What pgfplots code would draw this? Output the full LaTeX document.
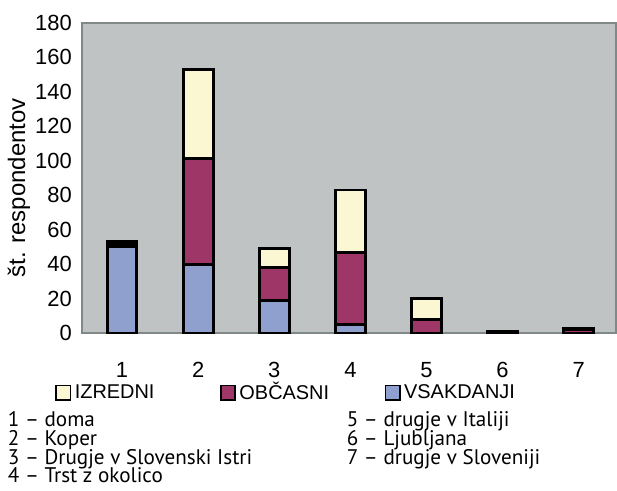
\documentclass[border=0pt]{standalone}
\usepackage{pgfplots}
\pgfplotsset{compat=1.18}
\usepackage{fontspec}
\setmainfont{Liberation Sans}
\newfontfamily\notefont{PT Sans}

\definecolor{bggray}{RGB}{192,195,196}
\definecolor{axisgray}{RGB}{128,136,136}
\definecolor{vsak}{RGB}{143,160,206}
\definecolor{obc}{RGB}{158,55,104}
\definecolor{izr}{RGB}{250,247,210}

\begin{document}
\begin{tikzpicture}
\begin{axis}[
    at={(0,0)}, anchor=south west,
    scale only axis,
    width=267.65pt, height=155.8pt,
    ybar stacked, bar width=15pt,
    xmin=0.48, xmax=7.49, ymin=0, ymax=180,
    xtick={1,...,7}, ytick={0,20,...,180},
    major tick length=0pt,
    axis background/.style={fill=bggray},
    axis line style={draw=axisgray, line width=1pt},
    tick label style={font=\fontsize{11}{12}\selectfont},
    /pgf/number format/assume math mode=true,
    xticklabel style={yshift=-11pt},
    yticklabel style={xshift=-1.8pt},
    ylabel={št. respondentov},
    ylabel style={at={(axis description cs:-0.119,0.468)}, anchor=center,
                  font=\fontsize{12}{13}\selectfont},
    every axis plot/.append style={draw=black, line width=1.5pt},
    legend image code/.code={\draw[#1, line width=0.8pt] (0pt,-3.6pt) rectangle (7.2pt,3.6pt);},
    reverse legend,
    legend columns=3,
    legend cell align=left,
    legend style={at={(axis description cs:-0.0517,-0.1916)}, anchor=west,
                  draw=none, fill=none, inner sep=0pt,
                  font=\fontsize{10}{11}\selectfont,
                  nodes={inner xsep=1.8pt, inner ysep=1pt, text width=71pt},
                  /tikz/every even column/.append style={column sep=0pt}},
]
% vsakdanji
\addplot[fill=vsak] coordinates {(1,50) (2,40) (3,19) (4,5) (5,0) (6,0) (7,0)};
% obcasni
\addplot[fill=obc] coordinates {(1,2) (2,61) (3,19) (4,42) (5,8) (6,1) (7,2)};
% izredni
\addplot[fill=izr] coordinates {(1,1) (2,52) (3,11) (4,36) (5,12) (6,0) (7,1)};
\legend{VSAKDANJI, OBČASNI, IZREDNI}
\end{axis}

\begin{scope}[x=0.5pt, y=-0.5pt, shift={(-41.35pt,167.15pt)}]
  \path[use as bounding box] (0,0) rectangle (617,492);
  \begin{scope}[every node/.style={anchor=base west, inner sep=0pt,
                font=\notefont\fontsize{10.6}{12}\selectfont}]
    \node at (7.5,427.7) {1 – doma};
    \node at (7.5,446.7) {2 – Koper};
    \node at (7.5,465.7) {3 – Drugje v Slovenski Istri};
    \node at (7.5,484.5) {4 – Trst z okolico};
    \node at (347.5,427.7) {5 – drugje v Italiji};
    \node at (347.5,446.7) {6 – Ljubljana};
    \node at (347.5,465.7) {7 – drugje v Sloveniji};
  \end{scope}
\end{scope}
\end{tikzpicture}
\end{document}
